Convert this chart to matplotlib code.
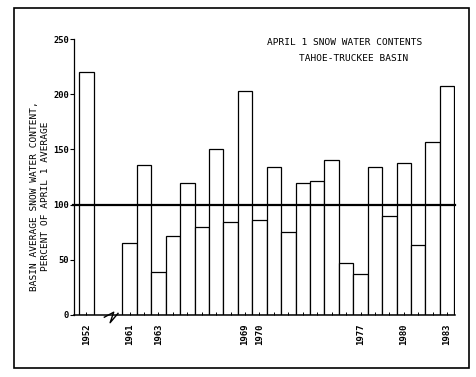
import numpy as np
import matplotlib.pyplot as plt
from matplotlib.patches import Rectangle

years = [1952] + list(range(1961, 1984))
values = [220, 65, 136, 39, 72, 120, 80, 150, 84, 203, 86, 134, 75, 120,
          121, 140, 47, 37, 134, 90, 138, 63, 157, 207]
labeled = [1952, 1961, 1963, 1969, 1970, 1977, 1980, 1983]
average = 100

# slot positions: 1952 first, two empty slots for the axis break, then 1961 on
pos = [0] + [3 + i for i in range(len(years) - 1)]

plt.rcParams['font.family'] = 'DejaVu Sans Mono'
fig = plt.figure(figsize=(4.76, 3.77), dpi=100)
ax = fig.add_axes([0.1555, 0.1645, 0.8005, 0.732])

ax.bar(pos, values, width=1.0, color='white', edgecolor='black', linewidth=0.9)
ax.plot([-0.95, pos[-1] + 0.55], [average, average], color='black',
        linewidth=1.6, clip_on=False)

ax.set_xlim(-0.85, pos[-1] + 0.55)
ax.set_ylim(0, 250)

for s in ['top', 'right']:
    ax.spines[s].set_visible(False)
ax.spines['left'].set_linewidth(0.9)
ax.spines['bottom'].set_linewidth(1.1)

ax.set_yticks([0, 50, 100, 150, 200, 250])
ax.set_yticklabels(['0', '50', '100', '150', '200', '250'], fontsize=6.3, fontweight='bold')
ax.tick_params(axis='y', direction='out', length=3, width=0.8, pad=0.5)

ax.set_xticks(pos)
ax.set_xticklabels([str(y) if y in labeled else '' for y in years],
                   rotation=90, fontsize=6.5, fontweight='bold')
ax.tick_params(axis='x', direction='in', length=2, width=0.7, pad=6)

ax.set_ylabel('BASIN AVERAGE SNOW WATER CONTENT,\nPERCENT OF APRIL 1 AVERAGE',
              fontsize=6.8, linespacing=1.3)
ax.yaxis.set_label_coords(-0.062, 0.43)

ax.text(0.71, 0.989, 'APRIL 1 SNOW WATER CONTENTS', transform=ax.transAxes,
        ha='center', va='center', fontsize=6.8)
ax.text(0.734, 0.931, 'TAHOE-TRUCKEE BASIN', transform=ax.transAxes,
        ha='center', va='center', fontsize=6.8)

# axis break mark between 1952 and 1961
bx = 1.7
ax.plot([bx - 0.45, bx + 0.2, bx - 0.05, bx + 0.5], [-2, 2.5, -7, 1.5],
        color='black', linewidth=1.0, clip_on=False)

fig.patches.append(Rectangle((0.03, 0.025), 0.955, 0.955, transform=fig.transFigure,
                             fill=False, edgecolor='black', linewidth=1.2))

fig.savefig('out.png', dpi=100)
